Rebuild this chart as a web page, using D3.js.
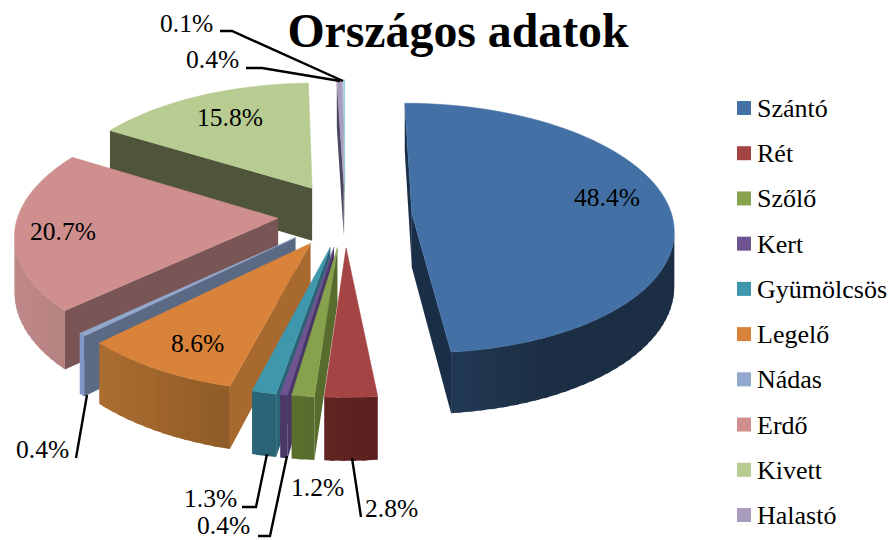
<!DOCTYPE html>
<html lang="en">
<head>
  <meta charset="UTF-8">
  <title>Országos adatok</title>
  <style>
    body { margin: 0; background: #fff; }
    svg { display: block; }
    text { font-family: "Liberation Serif", serif; fill: #000; }
  </style>
</head>
<body>
<div id="chart"></div>
<script src="https://d3js.org/d3.v7.min.js"></script>
<script>
  const categories = ["Szántó", "Rét", "Szőlő", "Kert", "Gyümölcsös", "Legelő", "Nádas", "Erdő", "Kivett", "Halastó", ""];
  const values = [48.4, 2.8, 1.2, 0.4, 1.3, 8.6, 0.4, 20.7, 15.8, 0.4, 0.1];

  const topColors = ["#4371a5", "#a44444", "#86a24c", "#6f5491", "#3e97ad", "#d8823a", "#92a9cf", "#cf8f8f", "#b8cc92", "#a99bbd", "#92cddc"];
  const cutColors = ["#1b2e48", "#5e2321", "#566b2c", "#4a3766", "#2a6475", "#a8692e", "#5a6a85", "#7a5555", "#4e553a", "#4a4560", "#6a8a95"];
  const wallColors = ["#20364f", "#541f1d", "#4b5d26", "#3e2e55", "#225060", "#71481f", "#546484", "#775555", "#4e553a", "#4a4560", "#6a8a95"];

  // label text, position, leader line
  const labels = [
    { t: "48.4%", x: 574, y: 206 },
    { t: "2.8%", x: 365, y: 517, line: [[361, 517], [352, 458]] },
    { t: "1.2%", x: 291, y: 496 },
    { t: "0.4%", x: 197, y: 534, line: [[258, 536], [270, 536], [287, 456]] },
    { t: "1.3%", x: 184, y: 507, line: [[242, 507], [256, 507], [267, 454]] },
    { t: "8.6%", x: 171, y: 352 },
    { t: "0.4%", x: 16, y: 458, line: [[76, 458], [87, 395]] },
    { t: "20.7%", x: 30, y: 240 },
    { t: "15.8%", x: 197, y: 126 },
    { t: "0.4%", x: 186, y: 68, line: [[246, 68], [262, 68], [340, 81]] },
    { t: "0.1%", x: 160, y: 32, line: [[220, 31], [232, 31], [343, 81]] }
  ];

  const width = 892, height = 540;
  const cx = 345, cy = 215;
  const radius = 260, explode = 67, depth = 54;
  const tilt = 0.475, persp = 0.118;

  const svg = d3.select("#chart").append("svg")
    .attr("width", width)
    .attr("height", height);

  // pie plane -> screen, z grows toward the viewer
  function project(x, z, h) {
    const s = 1 / (1 - persp * z / radius);
    return [cx + x * s, cy + (tilt * z + h) * s];
  }

  function shade(color, angle) {
    const dot = -Math.sin(angle) - Math.cos(angle) * 0.2;
    const f = Math.max(0.85, Math.min(1.6, 1 + 0.6 * dot));
    const c = d3.rgb(color);
    return d3.rgb(c.r * f, c.g * f, c.b * f).formatHex();
  }

  const pie = d3.pie().sort(null).value(d => d);
  const arcs = pie(values).map((d, i) => {
    const mid = (d.startAngle + d.endAngle) / 2;
    return { i, a0: d.startAngle, a1: d.endAngle, ox: Math.sin(mid) * explode, oz: -Math.cos(mid) * explode };
  });
  arcs.sort((a, b) => a.oz - b.oz);

  const line = d3.line();
  const poly = pts => line(pts) + "Z";
  const g = svg.append("g");

  arcs.forEach(s => {
    const slice = g.append("g");
    const outer = (a, h) => project(s.ox + Math.sin(a) * radius, s.oz - Math.cos(a) * radius, h);
    const apex = h => project(s.ox, s.oz, h);

    // only faces turned to the viewer (d3.polygonArea > 0 with this winding)
    const addFace = (pts, fill, drawn) => {
      if (d3.polygonArea(pts) > 0) {
        slice.append("path").attr("d", poly(drawn || pts)).attr("fill", fill);
      }
    };

    addFace([apex(0), outer(s.a0, 0), outer(s.a0, depth), apex(depth)], cutColors[s.i]);
    addFace([apex(0), apex(depth), outer(s.a1, depth), outer(s.a1, 0)], cutColors[s.i]);

    const steps = Math.max(2, Math.ceil((s.a1 - s.a0) / 0.04));
    const stepA = d3.scaleLinear().domain([0, steps]).range([s.a0, s.a1]);
    d3.range(steps).forEach(k => {
      const p = stepA(k), q = stepA(k + 1);
      // each band runs a little under the next one so no seams show
      const q2 = k < steps - 1 ? stepA(k + 1.5) : q;
      addFace([outer(p, 0), outer(q, 0), outer(q, depth), outer(p, depth)],
        shade(wallColors[s.i], (p + q) / 2),
        [outer(p, 0), outer(q2, 0), outer(q2, depth), outer(p, depth)]);
    });

    const rim = d3.range(steps + 1).map(k => outer(stepA(k), 0));
    slice.append("path")
      .attr("d", poly([apex(0), ...rim]))
      .attr("fill", topColors[s.i])
      .attr("stroke", topColors[s.i])
      .attr("stroke-width", 0.5);
  });

  svg.append("g").selectAll("path")
    .data(labels.filter(d => d.line))
    .enter().append("path")
    .attr("d", d => line(d.line))
    .attr("fill", "none")
    .attr("stroke", "#000")
    .attr("stroke-width", 2.4);

  svg.append("g").selectAll("text")
    .data(labels)
    .enter().append("text")
    .attr("x", d => d.x)
    .attr("y", d => d.y)
    .attr("font-size", 25.5)
    .text(d => d.t);

  svg.append("text")
    .attr("x", 458)
    .attr("y", 47)
    .attr("text-anchor", "middle")
    .attr("font-size", 47.8)
    .attr("font-weight", "bold")
    .text("Országos adatok");

  // legend (the last, unnamed category has no entry)
  const legendNames = categories.filter(d => d);
  const legendY = d3.scalePoint().domain(legendNames).range([108, 515]);
  const legend = svg.append("g").selectAll("g")
    .data(legendNames)
    .enter().append("g")
    .attr("transform", d => `translate(737,${legendY(d)})`);

  legend.append("rect")
    .attr("y", -7)
    .attr("width", 14)
    .attr("height", 14)
    .attr("fill", (d, i) => topColors[i]);

  legend.append("text")
    .attr("x", 20)
    .attr("y", 9)
    .attr("font-size", 26)
    .text(d => d);
</script>
</body>
</html>
